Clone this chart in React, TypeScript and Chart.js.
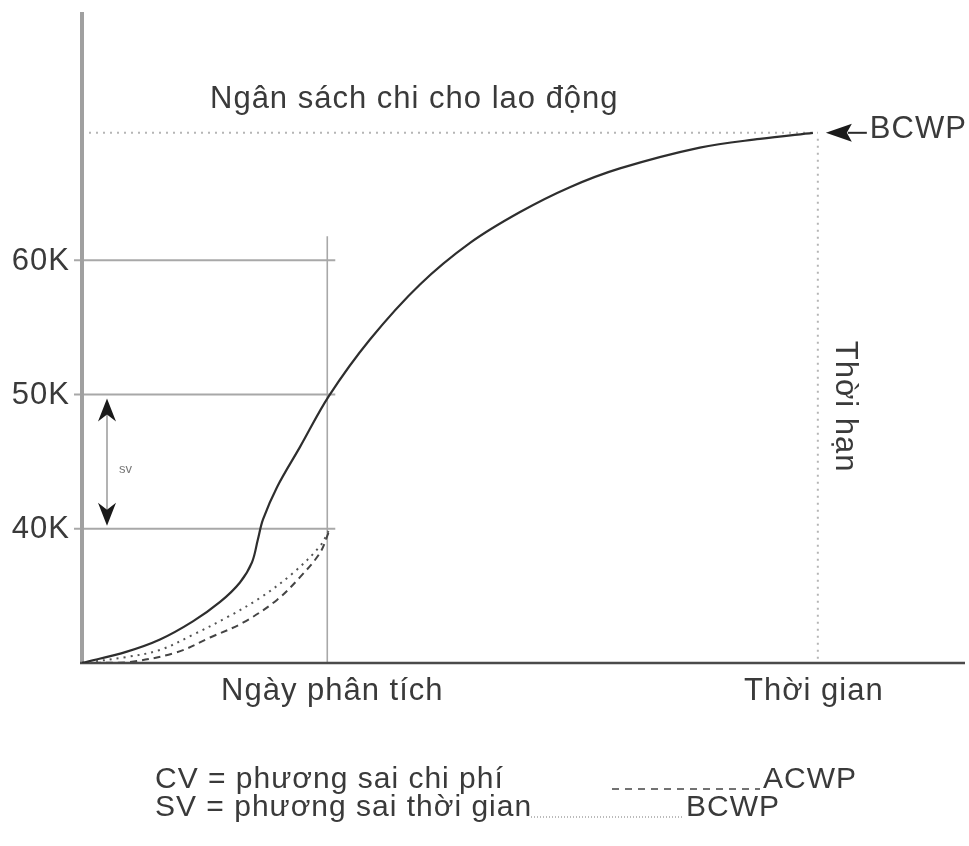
import React, { useEffect, useRef } from "react";
import { Chart, registerables } from "chart.js";

Chart.register(...registerables);

// ---- data (x = time units, y = thousands) ----
const plannedX = [0, 1.83, 3.18, 4.52, 5.63, 6.44, 6.93, 7.17, 7.38, 7.95, 8.89, 10.07, 11.74, 13.78, 15.82, 17.86, 19.89, 21.93, 25.19, 27.64, 29.8];
const plannedY = [30, 30.85, 31.75, 33.1, 34.55, 36.0, 37.5, 39.2, 40.7, 43.1, 46.1, 49.9, 54.1, 58.2, 61.3, 63.6, 65.45, 66.85, 68.4, 69.05, 69.5];

const bcwpX = [0, 1.83, 3.18, 4.52, 5.91, 7.26, 8.6, 9.7, 10.07];
const bcwpY = [30, 30.45, 30.97, 32.1, 33.4, 34.85, 36.7, 38.7, 39.9];

const acwpX = [0, 1.83, 3.87, 5.22, 6.56, 7.95, 8.89, 9.7, 10.07];
const acwpY = [30, 30.05, 30.8, 31.9, 33.0, 34.7, 36.4, 38.2, 39.8];

const yTicks = [40, 50, 60];
const yTickLabels = ["40K", "50K", "60K"];

const analysisDay = 10;
const deadline = 30;
const budget = 69.5;
const svTop = 50;
const svBottom = 40;

const xMin = 0;
const xMax = 36;
const yMin = 30;
const yMax = 78.5;

const FONT = "31px 'Liberation Sans', Arial, sans-serif";
const LEGEND_FONT = "30px 'Liberation Sans', Arial, sans-serif";
const TEXT = "#3a3a3a";

function pts(xs: number[], ys: number[]) {
  return xs.map((x, i) => ({ x, y: ys[i] }));
}

function arrowHead(ctx: CanvasRenderingContext2D, x: number, y: number, dir: number) {
  // dir: -1 pointing up, 1 pointing down
  ctx.beginPath();
  ctx.moveTo(x, y);
  ctx.lineTo(x - 9, y - dir * 23);
  ctx.lineTo(x, y - dir * 16);
  ctx.lineTo(x + 9, y - dir * 23);
  ctx.closePath();
  ctx.fill();
}

const annotate = {
  id: "annotate",
  beforeDatasetsDraw(chart: any) {
    const ctx = chart.ctx as CanvasRenderingContext2D;
    const xs = chart.scales.x;
    const ys = chart.scales.y;
    const area = chart.chartArea;
    const xA = xs.getPixelForValue(analysisDay);
    const xD = xs.getPixelForValue(deadline);
    const yB = ys.getPixelForValue(budget);
    ctx.save();
    // dotted budget lines
    ctx.strokeStyle = "#b5b5b5";
    ctx.lineWidth = 2;
    ctx.setLineDash([2, 5]);
    ctx.beginPath();
    ctx.moveTo(area.left, yB);
    ctx.lineTo(xD, yB);
    ctx.moveTo(xD, yB + 6);
    ctx.lineTo(xD, area.bottom);
    ctx.stroke();
    ctx.setLineDash([]);
    // tick lines
    ctx.strokeStyle = "#a8a8a8";
    ctx.lineWidth = 2;
    yTicks.forEach((v) => {
      const y = ys.getPixelForValue(v);
      ctx.beginPath();
      ctx.moveTo(area.left - 8, y);
      ctx.lineTo(xA + 8, y);
      ctx.stroke();
    });
    // analysis day vertical
    ctx.lineWidth = 1.6;
    ctx.beginPath();
    ctx.moveTo(xA, ys.getPixelForValue(61.8));
    ctx.lineTo(xA, area.bottom);
    ctx.stroke();
    // axes
    ctx.strokeStyle = "#a0a0a0";
    ctx.lineWidth = 4;
    ctx.beginPath();
    ctx.moveTo(area.left, area.top);
    ctx.lineTo(area.left, area.bottom);
    ctx.stroke();
    ctx.strokeStyle = "#4a4a4a";
    ctx.lineWidth = 2.5;
    ctx.beginPath();
    ctx.moveTo(area.left - 2, area.bottom);
    ctx.lineTo(area.right, area.bottom);
    ctx.stroke();
    ctx.restore();
  },
  afterDatasetsDraw(chart: any) {
    const ctx = chart.ctx as CanvasRenderingContext2D;
    const xs = chart.scales.x;
    const ys = chart.scales.y;
    const area = chart.chartArea;
    const xA = xs.getPixelForValue(analysisDay);
    const xD = xs.getPixelForValue(deadline);
    const yB = ys.getPixelForValue(budget);
    ctx.save();
    (ctx as any).letterSpacing = "1px";
    ctx.font = FONT;
    ctx.fillStyle = TEXT;
    ctx.textBaseline = "middle";
    // y tick labels
    ctx.textAlign = "right";
    yTicks.forEach((v, i) => {
      ctx.fillText(yTickLabels[i], area.left - 12, ys.getPixelForValue(v) + 1);
    });
    // budget label
    ctx.textAlign = "left";
    ctx.fillText("Ngân sách chi cho lao động", 210, yB - 33);
    // BCWP arrow
    ctx.strokeStyle = "#2a2a2a";
    ctx.lineWidth = 2;
    ctx.beginPath();
    ctx.moveTo(xD + 30, yB);
    ctx.lineTo(xD + 49, yB);
    ctx.stroke();
    ctx.fillStyle = "#1a1a1a";
    ctx.beginPath();
    ctx.moveTo(xD + 8, yB);
    ctx.lineTo(xD + 34, yB - 9);
    ctx.lineTo(xD + 29, yB);
    ctx.lineTo(xD + 34, yB + 9);
    ctx.closePath();
    ctx.fill();
    ctx.fillStyle = TEXT;
    ctx.fillText("BCWP", xD + 52, yB - 3);
    // deadline label (rotated)
    ctx.save();
    ctx.translate(xD + 27, ys.getPixelForValue(49.1));
    ctx.rotate(Math.PI / 2);
    ctx.textAlign = "center";
    ctx.fillText("Thời hạn", 0, 0);
    ctx.restore();
    // x labels
    ctx.textAlign = "center";
    ctx.fillText("Ngày phân tích", xA + 5, area.bottom + 28);
    ctx.fillText("Thời gian", xD - 4, area.bottom + 28);
    // SV arrow
    const xs0 = area.left + 25;
    const yT = ys.getPixelForValue(svTop) + 4;
    const yBo = ys.getPixelForValue(svBottom) - 3;
    ctx.strokeStyle = "#9a9a9a";
    ctx.lineWidth = 1.5;
    ctx.beginPath();
    ctx.moveTo(xs0, yT + 10);
    ctx.lineTo(xs0, yBo - 10);
    ctx.stroke();
    ctx.fillStyle = "#1a1a1a";
    arrowHead(ctx, xs0, yT, -1);
    arrowHead(ctx, xs0, yBo, 1);
    ctx.fillStyle = "#777";
    ctx.font = "13px 'Liberation Sans', Arial, sans-serif";
    (ctx as any).letterSpacing = "0px";
    ctx.textAlign = "left";
    ctx.fillText("sv", xs0 + 12, (yT + yBo) / 2 + 7);
    // legend
    ctx.font = LEGEND_FONT;
    (ctx as any).letterSpacing = "1px";
    ctx.fillStyle = TEXT;
    ctx.fillText("CV = phương sai chi phí", 155, 780);
    ctx.fillText("ACWP", 763, 780);
    ctx.fillText("SV = phương sai thời gian", 155, 808);
    ctx.fillText("BCWP", 686, 808);
    ctx.strokeStyle = "#444";
    ctx.lineWidth = 1.5;
    ctx.setLineDash([7, 6]);
    ctx.beginPath();
    ctx.moveTo(612, 789);
    ctx.lineTo(760, 789);
    ctx.stroke();
    ctx.strokeStyle = "#777";
    ctx.lineWidth = 1;
    ctx.setLineDash([1, 2]);
    ctx.beginPath();
    ctx.moveTo(531, 817);
    ctx.lineTo(682, 817);
    ctx.stroke();
    ctx.restore();
  },
};

export default function App() {
  const ref = useRef<HTMLCanvasElement>(null);
  useEffect(() => {
    if (!ref.current) return;
    const chart = new Chart(ref.current, {
      type: "line",
      data: {
        datasets: [
          {
            label: "BCWS",
            data: pts(plannedX, plannedY),
            borderColor: "#2e2e2e",
            borderWidth: 2.2,
            pointRadius: 0,
            tension: 0.35,
          },
          {
            label: "BCWP",
            data: pts(bcwpX, bcwpY),
            borderColor: "#555",
            borderWidth: 2,
            borderDash: [2, 5],
            pointRadius: 0,
            tension: 0.35,
          },
          {
            label: "ACWP",
            data: pts(acwpX, acwpY),
            borderColor: "#444",
            borderWidth: 2,
            borderDash: [7, 5],
            pointRadius: 0,
            tension: 0.35,
          },
        ],
      },
      options: {
        responsive: false,
        animation: false,
        devicePixelRatio: 1,
        layout: { padding: { left: 82, top: 12, right: 4, bottom: 183 } },
        plugins: { legend: { display: false }, tooltip: { enabled: false } },
        scales: {
          x: { type: "linear", min: xMin, max: xMax, display: false },
          y: { type: "linear", min: yMin, max: yMax, display: false },
        },
      },
      plugins: [annotate],
    });
    return () => chart.destroy();
  }, []);
  return (
    <div style={{ position: "fixed", left: 0, top: 0, width: 969, height: 846, background: "#fff" }}>
      <canvas ref={ref} width={969} height={846} />
    </div>
  );
}
